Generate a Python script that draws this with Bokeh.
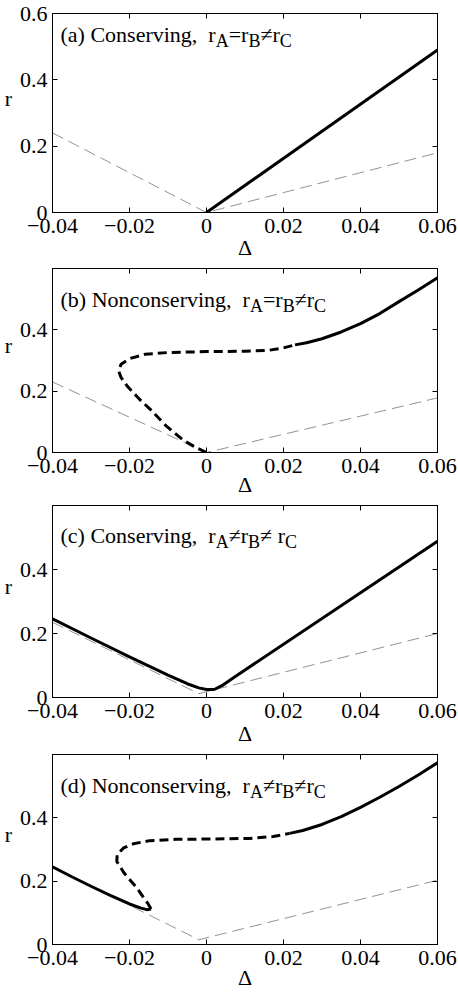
from bokeh.plotting import figure
from bokeh.layouts import column
from bokeh.models import LinearAxis, FixedTicker, CustomJSTickFormatter, Label, Range1d
from bokeh.embed import file_html
from bokeh.resources import INLINE

# ---------------- data ----------------
x_ticks = [-0.04, -0.02, 0.0, 0.02, 0.04, 0.06]
x_tick_labels = ["\u22120.04", "\u22120.02", "0", "0.02", "0.04", "0.06"]
y_ticks_a = [0.0, 0.2, 0.4, 0.6]
y_tick_labels_a = ["0", "0.2", "0.4", "0.6"]
y_ticks_bcd = [0.0, 0.2, 0.4]
y_tick_labels_bcd = ["0", "0.2", "0.4"]
x_label = "\u0394"
y_label = "r"

titles = ["(a) Conserving,", "(b) Nonconserving,", "(c) Conserving,", "(d) Nonconserving,"]
relations = [
    [("r", 0), ("A", 1), ("=r", 0), ("B", 1), ("\u2260r", 0), ("C", 1)],
    [("r", 0), ("A", 1), ("=r", 0), ("B", 1), ("\u2260r", 0), ("C", 1)],
    [("r", 0), ("A", 1), ("\u2260r", 0), ("B", 1), ("\u2260 r", 0), ("C", 1)],
    [("r", 0), ("A", 1), ("\u2260r", 0), ("B", 1), ("\u2260r", 0), ("C", 1)],
]

# thin grey dashed asymptotes
a_grey_x = [-0.04, 0.0, 0.06]
a_grey_y = [0.24, 0.0, 0.18]
b_grey_x = [-0.04, 0.0, 0.06]
b_grey_y = [0.23, 0.0, 0.178]
c_grey_x = [-0.04, -0.002, 0.06]
c_grey_y = [0.235, 0.012, 0.20]
d_grey_x = [-0.04, -0.002, 0.06]
d_grey_y = [0.245, 0.015, 0.203]

# (a) conserving, rA=rB!=rC
a_solid_x = [0.0, 0.06]
a_solid_y = [0.0, 0.49]

# (b) nonconserving, rA=rB!=rC
b_dash_x = [0.0, -0.003, -0.006, -0.0105, -0.0144, -0.0175, -0.0205, -0.0222, -0.0228,
            -0.0222, -0.0200, -0.0160, -0.010, 0.0, 0.010, 0.016, 0.020, 0.023]
b_dash_y = [0.0, 0.018, 0.040, 0.087, 0.138, 0.175, 0.215, 0.245, 0.265,
            0.288, 0.306, 0.320, 0.326, 0.329, 0.330, 0.333, 0.341, 0.351]
b_solid_x = [0.023, 0.026, 0.030, 0.035, 0.040, 0.045, 0.050, 0.055, 0.060]
b_solid_y = [0.351, 0.358, 0.371, 0.393, 0.420, 0.453, 0.492, 0.530, 0.570]

# (c) conserving, rA!=rB!=rC
c_solid_x = [-0.04, -0.03, -0.02, -0.01, -0.005, -0.002, 0.0, 0.002, 0.004, 0.007, 0.06]
c_solid_y = [0.246, 0.186, 0.127, 0.070, 0.043, 0.030, 0.025, 0.025, 0.037, 0.062, 0.488]

# (d) nonconserving, rA!=rB!=rC
d_solid1_x = [-0.04, -0.035, -0.03, -0.025, -0.02, -0.017, -0.0155, -0.0144]
d_solid1_y = [0.245, 0.214, 0.184, 0.155, 0.128, 0.115, 0.110, 0.112]
d_dash_x = [-0.0144, -0.0152, -0.0183, -0.0213, -0.0233, -0.0232, -0.0215, -0.019,
            -0.0148, -0.008, 0.0, 0.011, 0.0173, 0.0216]
d_dash_y = [0.112, 0.129, 0.182, 0.224, 0.262, 0.285, 0.305, 0.318,
            0.328, 0.332, 0.333, 0.335, 0.341, 0.351]
d_solid2_x = [0.0216, 0.025, 0.030, 0.035, 0.040, 0.045, 0.050, 0.055, 0.060]
d_solid2_y = [0.351, 0.360, 0.379, 0.404, 0.433, 0.465, 0.499, 0.535, 0.574]

# ---------------- styling / layout ----------------
FONT = "Liberation Serif"
MAIN = 22
SUB = 18
W_TIMES = {'(': 333, ')': 333, ' ': 250, ',': 250, 'a': 444, 'b': 500, 'c': 444, 'd': 500,
           'e': 444, 'g': 500, 'i': 278, 'n': 500, 'o': 500, 'r': 333, 's': 389, 'v': 500,
           'C': 667, 'N': 722, 'A': 722, 'B': 667, '=': 564, '\u2260': 549}


def text_width(s, size):
    return sum(W_TIMES.get(ch, 500) for ch in s) / 1000.0 * size


fmt_code = """
for (let i = 0; i < tvals.length; i++) {
  if (Math.abs(tvals[i] - tick) < 1e-9) { return tlabels[i]; }
}
return "";
"""


def style_axis(ax, ticks, labels, show):
    ax.ticker = FixedTicker(ticks=ticks)
    ax.major_tick_in = 5
    ax.major_tick_out = 0
    ax.minor_tick_line_color = None
    ax.axis_line_color = "black"
    ax.major_tick_line_color = "black"
    ax.major_label_text_font = FONT
    ax.major_label_text_color = "black"
    if show:
        ax.formatter = CustomJSTickFormatter(args=dict(tvals=ticks, tlabels=labels), code=fmt_code)
        ax.major_label_text_font_size = "22px"
    else:
        ax.formatter = CustomJSTickFormatter(code='return "";')
        ax.major_label_text_font_size = "0px"
        ax.major_label_standoff = 0


frame_h = [199, 184, 192, 190]
border_top = [13, 1, 1, 1]
border_bottom = [55, 52, 56, 53]
xlabel_standoff = [-1, -4, 0, -3]
title_base_from_bottom = [178, 153, 162, 159]

panels_lines = [
    ([(a_grey_x, a_grey_y)], [(a_solid_x, a_solid_y, False)]),
    ([(b_grey_x, b_grey_y)], [(b_dash_x, b_dash_y, True), (b_solid_x, b_solid_y, False)]),
    ([(c_grey_x, c_grey_y)], [(c_solid_x, c_solid_y, False)]),
    ([(d_grey_x, d_grey_y)], [(d_solid1_x, d_solid1_y, False), (d_dash_x, d_dash_y, True),
                              (d_solid2_x, d_solid2_y, False)]),
]

figs = []
for i in range(4):
    h = border_top[i] + frame_h[i] + border_bottom[i]
    p = figure(width=458, height=h, x_range=Range1d(-0.04, 0.06), y_range=Range1d(0, 0.6),
               output_backend="svg", toolbar_location=None,
               min_border_left=52, min_border_right=21,
               min_border_top=border_top[i], min_border_bottom=border_bottom[i])
    p.xgrid.visible = False
    p.ygrid.visible = False
    p.outline_line_color = "black"
    p.outline_line_width = 1
    p.background_fill_color = "white"
    p.border_fill_color = "white"

    yt, yl = (y_ticks_a, y_tick_labels_a) if i == 0 else (y_ticks_bcd, y_tick_labels_bcd)
    xa = p.xaxis[0]
    style_axis(xa, x_ticks, x_tick_labels, True)
    xa.major_label_standoff = 6
    xa.axis_label = x_label
    xa.axis_label_text_font = FONT
    xa.axis_label_text_font_style = "normal"
    xa.axis_label_text_font_size = "22px"
    xa.axis_label_text_color = "black"
    xa.axis_label_standoff = xlabel_standoff[i]

    ya = p.yaxis[0]
    style_axis(ya, yt, yl, True)
    ya.major_label_standoff = 5
    ya.axis_label = y_label + "\n\u00a0"
    ya.axis_label_text_font = FONT
    ya.axis_label_text_font_style = "normal"
    ya.axis_label_text_font_size = "22px"
    ya.axis_label_text_color = "black"
    ya.axis_label_standoff = 5
    try:
        ya.axis_label_orientation = "horizontal"
    except Exception:
        pass

    top_ax = LinearAxis()
    style_axis(top_ax, x_ticks, x_tick_labels, False)
    p.add_layout(top_ax, "above")
    right_ax = LinearAxis()
    style_axis(right_ax, yt, yl, False)
    p.add_layout(right_ax, "right")

    greys, blacks = panels_lines[i]
    for gx, gy in greys:
        p.line(gx, gy, line_color="#929292", line_width=1, line_dash="12 6")
    for bx, by, dashed in blacks:
        if dashed:
            p.line(bx, by, line_color="black", line_width=3, line_dash="9 5")
        else:
            p.line(bx, by, line_color="black", line_width=3)

    # panel title with subscripts, each piece placed separately
    base_y = title_base_from_bottom[i]
    x = 8
    p.add_layout(Label(x=x, y=base_y, x_units="screen", y_units="screen",
                       text=titles[i], text_font=FONT, text_font_size=f"{MAIN}px",
                       text_color="black", text_align="left", text_baseline="alphabetic"))
    x += text_width(titles[i], MAIN) + 2 * text_width(" ", MAIN)
    for txt, sub in relations[i]:
        size = SUB if sub else MAIN
        if txt.startswith("\u2260 "):
            pre = "\u2260"
            p.add_layout(Label(x=x, y=base_y, x_units="screen", y_units="screen",
                               text=pre, text_font=FONT, text_font_size=f"{size}px",
                               text_color="black", text_align="left", text_baseline="alphabetic"))
            x += text_width(pre + " ", size)
            txt = txt[2:]
        p.add_layout(Label(x=x, y=base_y - (6 if sub else 0), x_units="screen", y_units="screen",
                           text=txt, text_font=FONT, text_font_size=f"{size}px",
                           text_color="black", text_align="left", text_baseline="alphabetic"))
        x += text_width(txt, size)
    figs.append(p)

layout = column(*figs)
open("out.html", "w").write(file_html(layout, INLINE))
